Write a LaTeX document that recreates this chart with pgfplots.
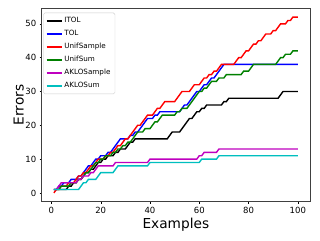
\documentclass[border=0pt]{standalone}
\usepackage{fontspec}
\setmainfont{DejaVu Sans}
\usepackage{pgfplots}
\usepackage{pgfplotstable}
\pgfplotsset{compat=1.18}
\definecolor{mplg}{rgb}{0,0.5,0}
\definecolor{mplm}{rgb}{0.75,0,0.75}
\definecolor{mplc}{rgb}{0,0.75,0.75}
\pgfplotstableread{
x itol tol us usum as asum
1 1 1 0 1 1 1
2 1 1 1 1 1 1
3 1 2 1 1 2 1
4 1 2 2 2 3 1
5 1 3 2 2 3 1
6 1 3 2 2 3 1
7 2 3 3 2 3 1
8 2 4 3 3 3 1
9 3 4 3 3 3 1
10 3 4 4 3 3 1
11 4 5 5 4 4 1
12 4 5 5 4 4 2
13 5 6 6 5 5 3
14 6 7 6 6 5 3
15 6 8 7 6 5 4
16 7 8 8 7 6 4
17 7 9 8 8 6 4
18 8 10 9 9 7 4
19 9 10 10 9 8 5
20 9 11 10 10 8 6
21 10 11 10 10 8 6
22 10 11 11 11 8 6
23 11 12 11 11 8 6
24 11 12 12 11 8 6
25 11 13 12 12 8 6
26 12 14 13 12 9 7
27 12 15 14 13 9 8
28 13 16 14 13 9 8
29 13 16 15 14 9 8
30 13 16 16 14 9 8
31 14 16 16 15 9 8
32 15 17 17 15 9 8
33 15 17 18 16 9 8
34 16 18 19 17 9 8
35 16 18 20 18 9 8
36 16 19 20 18 9 8
37 16 20 21 18 9 8
38 16 21 22 19 9 8
39 16 22 23 19 9 8
40 16 22 23 19 10 9
41 16 22 23 20 10 9
42 16 23 24 21 10 9
43 16 23 25 21 10 9
44 16 24 25 22 10 9
45 16 24 26 23 10 9
46 16 24 27 23 10 9
47 16 24 27 23 10 9
48 17 24 27 23 10 9
49 18 24 27 23 10 9
50 18 24 27 23 10 9
51 18 24 28 24 10 9
52 18 24 29 24 10 9
53 19 25 30 25 10 9
54 20 26 30 25 10 9
55 21 26 30 25 10 9
56 22 27 30 26 10 9
57 22 28 31 27 10 9
58 23 29 32 28 10 9
59 24 30 32 29 10 9
60 24 30 32 30 11 9
61 25 31 33 30 11 10
62 25 32 34 31 12 10
63 26 32 34 31 12 10
64 26 33 35 32 12 10
65 26 34 35 33 12 10
66 26 34 36 33 12 10
67 26 35 36 33 12 10
68 26 36 37 34 13 11
69 26 37 38 34 13 11
70 27 38 38 34 13 11
71 27 38 38 35 13 11
72 28 38 38 35 13 11
73 28 38 38 35 13 11
74 28 38 38 35 13 11
75 28 38 39 35 13 11
76 28 38 40 35 13 11
77 28 38 40 35 13 11
78 28 38 41 36 13 11
79 28 38 42 36 13 11
80 28 38 42 36 13 11
81 28 38 43 37 13 11
82 28 38 44 38 13 11
83 28 38 44 38 13 11
84 28 38 45 38 13 11
85 28 38 45 38 13 11
86 28 38 46 38 13 11
87 28 38 47 38 13 11
88 28 38 47 38 13 11
89 28 38 47 38 13 11
90 28 38 48 38 13 11
91 28 38 48 38 13 11
92 28 38 49 39 13 11
93 29 38 50 40 13 11
94 30 38 50 40 13 11
95 30 38 50 41 13 11
96 30 38 51 41 13 11
97 30 38 51 41 13 11
98 30 38 52 42 13 11
99 30 38 52 42 13 11
100 30 38 52 42 13 11
}\data
\begin{document}
\begin{tikzpicture}
\path[use as bounding box] (-41.7pt,-38.3pt) rectangle (278.3pt,201.7pt);
\begin{axis}[
  at={(0pt,0pt)}, anchor=south west,
  scale only axis, width=268.3pt, height=193.4pt,
  xmin=-3.95, xmax=104.95, ymin=-2.6, ymax=54.6,
  xtick={0,20,40,60,80,100}, ytick={0,10,20,30,40,50},
  tick align=outside, tick pos=left,
  major tick length=2pt,
  every tick/.style={black, line width=0.4pt},
  axis line style={black!75, line width=0.5pt},
  /pgf/number format/assume math mode=true,
  tick label style={font=\fontsize{8.5}{10}\selectfont},
  xlabel={Examples}, ylabel={Errors},
  label style={font=\fontsize{13.7}{16}\selectfont},
  xlabel style={at={(axis description cs:0.5,-0.12)}, anchor=center},
  ylabel style={at={(axis description cs:-0.086,0.5)}, anchor=center, rotate=0},
  legend cell align=left,
  legend style={at={(0.006,0.977)}, anchor=north west,
    font=\fontsize{7.2}{8}\selectfont,
    draw=black!20, rounded corners=1.5pt, fill=white,
    inner xsep=2.5pt, inner ysep=2.5pt, row sep=2.1pt},
  legend image code/.code={\draw[mark repeat=2,mark phase=2,#1] plot coordinates {(0pt,0pt) (7.5pt,0pt) (15pt,0pt)};},
  every axis plot/.append style={line width=1.4pt},
]
\addplot[black] table[x=x,y=itol]{\data};
\addlegendentry{ITOL}
\addplot[blue] table[x=x,y=tol]{\data};
\addlegendentry{TOL}
\addplot[red] table[x=x,y=us]{\data};
\addlegendentry{UnifSample}
\addplot[mplg] table[x=x,y=usum]{\data};
\addlegendentry{UnifSum}
\addplot[mplm] table[x=x,y=as]{\data};
\addlegendentry{AKLOSample}
\addplot[mplc] table[x=x,y=asum]{\data};
\addlegendentry{AKLOSum}
\end{axis}
\end{tikzpicture}
\end{document}
